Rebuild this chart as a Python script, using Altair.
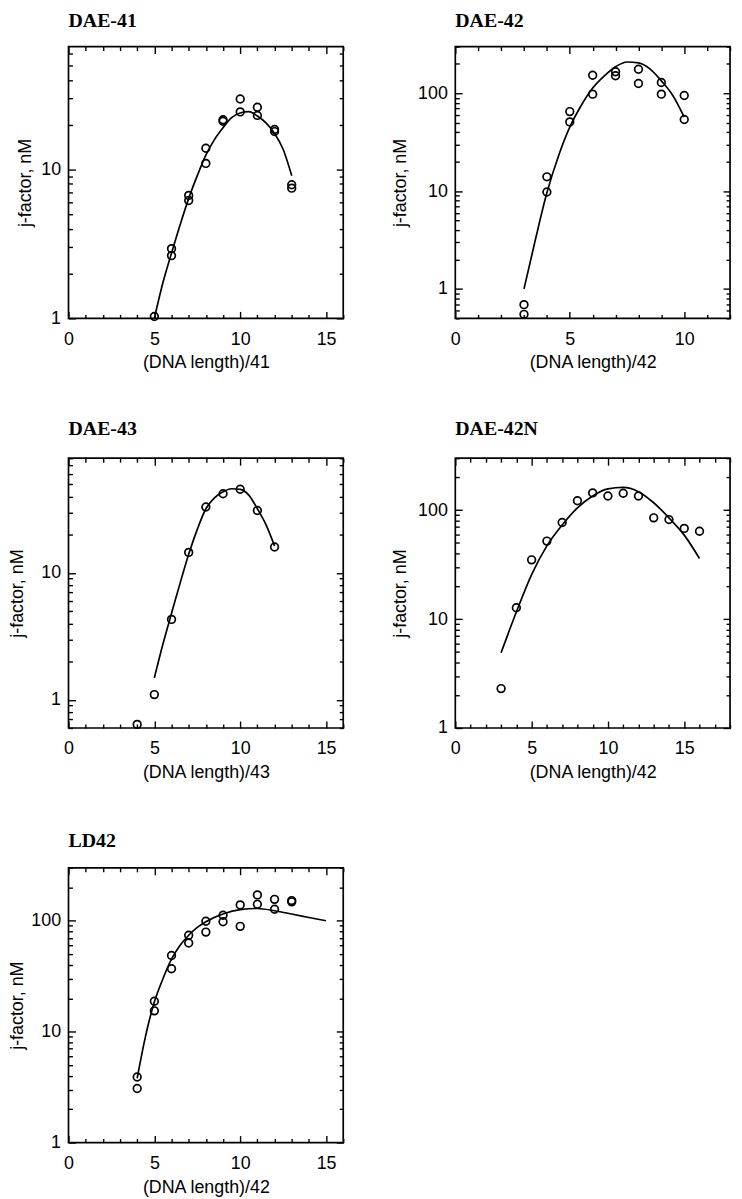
import altair as alt
import pandas as pd

# ---------------- data ----------------
# DAE-41
P1_X = [5, 6, 6, 7, 7, 8, 8, 9, 9, 10, 10, 11, 11, 12, 12, 13, 13]
P1_Y = [1.03, 2.94, 2.64, 6.7, 6.2, 13.9, 11.0, 21.6, 21.1, 29.8, 24.4, 26.2, 23.1, 18.6, 18.0, 7.9, 7.5]
C1_X = [5, 5.5, 6, 6.5, 7, 7.5, 8, 8.5, 9, 9.5, 10, 10.5, 11, 11.5, 12, 12.5, 13]
C1_Y = [1.0, 1.74, 2.75, 4.25, 6.4, 9.1, 12.5, 15.9, 19.1, 22.3, 24.0, 24.5, 22.9, 20.6, 17.5, 13.7, 9.1]

# DAE-42
P2_X = [3, 3, 4, 4, 5, 5, 6, 6, 7, 7, 8, 8, 9, 9, 10, 10]
P2_Y = [0.69, 0.55, 14.0, 9.8, 65, 51, 153, 98, 166, 151, 176, 126, 129, 98, 95, 54]
C2_X = [3, 3.5, 4, 4.5, 5, 5.5, 6, 6.5, 7, 7.5, 8, 8.5, 9, 9.5, 10]
C2_Y = [1.0, 3.2, 9.6, 22.6, 45, 75, 113, 150, 187, 209, 205, 178, 134, 95, 57]

# DAE-43
P3_X = [4, 5, 6, 7, 8, 9, 10, 11, 12]
P3_Y = [0.64, 1.10, 4.3, 14.5, 33, 42, 45.6, 31, 16.0]
C3_X = [5, 5.5, 6, 6.5, 7, 7.5, 8, 8.5, 9, 9.5, 10, 10.5, 11, 11.5, 12]
C3_Y = [1.49, 2.75, 4.8, 8.3, 14.0, 22.0, 32.0, 39.0, 43.5, 46.0, 45.5, 41.0, 32.0, 24.0, 16.3]

# DAE-42N
P4_X = [3, 4, 5, 6, 7, 8, 9, 10, 11, 12, 13, 14, 15, 16]
P4_Y = [2.3, 12.7, 35, 52, 77, 122, 144, 135, 143, 135, 85, 82, 68, 64]
C4_X = [3, 4, 5, 6, 7, 8, 9, 10, 11, 12, 13, 14, 15, 16]
C4_Y = [4.9, 11.6, 25.6, 47, 73, 105, 135, 157, 162, 148, 117, 85, 59, 36]

# LD42
P5_X = [4, 4, 5, 5, 6, 6, 7, 7, 8, 8, 9, 9, 10, 10, 11, 11, 12, 12, 13, 13]
P5_Y = [3.9, 3.07, 18.8, 15.4, 48.6, 36.9, 74, 63, 99, 79, 112, 98, 139, 89, 171, 141, 156, 127, 152, 148]
C5_X = [4, 4.5, 5, 5.5, 6, 6.5, 7, 7.5, 8, 9, 10, 11, 12, 13, 14, 15]
C5_Y = [3.8, 9.3, 18.5, 30, 45, 60, 74, 87, 98, 115, 126, 129, 123, 115, 107, 100]

TITLES = ["DAE-41", "DAE-42", "DAE-43", "DAE-42N", "LD42"]
X_TITLES = ["(DNA length)/41", "(DNA length)/42", "(DNA length)/43", "(DNA length)/42", "(DNA length)/42"]
Y_TITLE = "j-factor, nM"
X_LABELS = [0, 5, 10, 15]
Y_LABELS = [1, 10, 100]

FONT = "Liberation Sans"
SERIF = "Liberation Serif"
MAJ_Y = "abs(log(datum.value)/LN10 - round(log(datum.value)/LN10)) < 0.001"
MAJ_X = "datum.value % 5 === 0"


def log_ticks(lo, hi):
    vals = []
    for e in (-1, 0, 1, 2):
        for m in range(1, 10):
            v = round(m * 10 ** e, 6)
            if lo - 1e-9 <= v <= hi + 1e-9:
                vals.append(v)
    return vals


def panel(name, px, py, cx, cy, xdom, ydom, xtitle, W, H, toff, ytx):
    pts = pd.DataFrame({"x": px, "y": py})
    crv = pd.DataFrame({"x": cx, "y": cy})
    xs = alt.Scale(domain=xdom, nice=False, zero=False)
    ys = alt.Scale(type="log", domain=ydom, nice=False)
    xint = list(range(int(xdom[0]), int(xdom[1]) + 1))
    xmaj = [v for v in X_LABELS if xdom[0] <= v <= xdom[1]]
    ytk = log_ticks(*ydom)
    ymaj = [v for v in Y_LABELS if ydom[0] <= v <= ydom[1]]
    xsize = {"condition": {"test": MAJ_X, "value": 7}, "value": 4}
    ysize = {"condition": {"test": MAJ_Y, "value": 7}, "value": 4}
    tk = dict(labels=False, domain=False, grid=False, title=None,
              tickColor="black", tickWidth=1.4)

    lab_x = alt.Axis(values=xmaj, ticks=False, tickSize=0, domain=False, grid=False,
                     labelPadding=12, labelFlush=False, labelOverlap=False,
                     title=xtitle, titlePadding=6, format="d")
    lab_y = alt.Axis(values=ymaj, ticks=False, tickSize=0, domain=False, grid=False,
                     labelPadding=8, labelFlush=False, labelOverlap=False,
                     title=Y_TITLE, titleX=ytx, titleBaseline="middle", format="~g")

    l1 = alt.Chart(pts).mark_point(shape="circle", filled=False, color="black",
                                   size=60, strokeWidth=1.7, opacity=1).encode(
        x=alt.X("x:Q", scale=xs, axis=lab_x),
        y=alt.Y("y:Q", scale=ys, axis=lab_y),
    )
    l2 = alt.Chart(crv).mark_line(color="black", strokeWidth=1.7,
                                  interpolate="monotone").encode(
        x=alt.X("x:Q", scale=xs, axis=alt.Axis(orient="top", offset=-H, values=xint,
                                               tickSize=xsize, **tk)),
        y=alt.Y("y:Q", scale=ys, axis=alt.Axis(orient="right", offset=-W, values=ytk,
                                               tickSize=ysize, **tk)),
    )
    l3 = alt.Chart(crv).mark_line(strokeOpacity=0).encode(
        x=alt.X("x:Q", scale=xs, axis=alt.Axis(orient="bottom", offset=-H, values=xint,
                                               tickSize=xsize, **tk)),
        y=alt.Y("y:Q", scale=ys, axis=alt.Axis(orient="left", offset=-W, values=ytk,
                                               tickSize=ysize, **tk)),
    )
    return alt.layer(l3, l2, l1).resolve_axis(x="independent", y="independent").properties(
        width=W, height=H,
        title=alt.TitleParams(text=name, anchor="start", frame="group", font=SERIF,
                              fontSize=20, fontWeight="bold", color="black",
                              offset=toff, baseline="alphabetic"),
    )


W = 277
p1 = panel(TITLES[0], P1_X, P1_Y, C1_X, C1_Y, [0, 16], [1, 67], X_TITLES[0], W, 274, -1, -43)
p2 = panel(TITLES[1], P2_X, P2_Y, C2_X, C2_Y, [0, 12], [0.5, 300], X_TITLES[1], W, 274, -1, -55)
p3 = panel(TITLES[2], P3_X, P3_Y, C3_X, C3_Y, [0, 16], [0.6, 80], X_TITLES[2], W, 272, 3, -51)
p4 = panel(TITLES[3], P4_X, P4_Y, C4_X, C4_Y, [0, 18], [1, 300], X_TITLES[3], W, 272, 3, -55)
p5 = panel(TITLES[4], P5_X, P5_Y, C5_X, C5_Y, [0, 16], [1, 300], X_TITLES[4], W, 277, 0, -51)

chart = alt.concat(p1, p2, p3, p4, p5, columns=2,
                   spacing={"row": 141, "column": 113},
                   bounds="flush", align="each").properties(
    padding={"left": 0, "top": -3, "right": 2, "bottom": 0}
).configure_view(
    stroke="black", strokeWidth=1.7
).configure_axis(
    labelFont=FONT, titleFont=FONT, labelFontSize=18, titleFontSize=18,
    labelColor="black", titleColor="black", titleFontWeight="normal",
)

chart.save("out.html", embed_options={"renderer": "svg", "actions": False})
